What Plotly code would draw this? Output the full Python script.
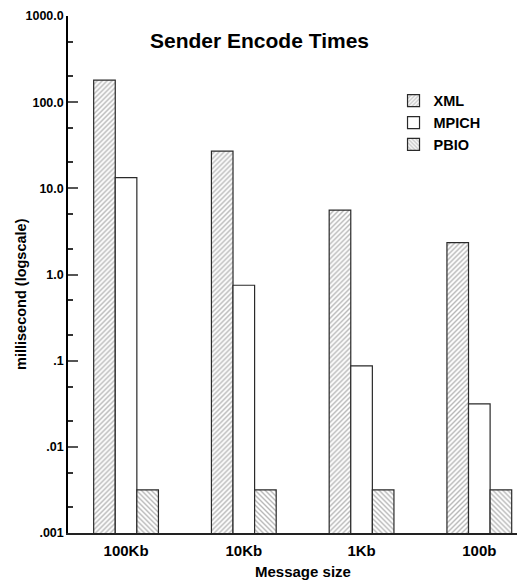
import plotly.graph_objects as go

categories = ["100Kb", "10Kb", "1Kb", "100b"]
xml_ms = [180, 27, 5.6, 2.35]
mpich_ms = [13.3, 0.75, 0.087, 0.0316]
pbio_ms = [0.00316, 0.00316, 0.00316, 0.00316]
ytick_vals = [0.001, 0.01, 0.1, 1, 10, 100, 1000]
ytick_text = [".001", ".01", ".1", "1.0", "10.0", "100.0", "1000.0"]

FONT = "Liberation Sans, Arial, sans-serif"
line = dict(color="#2a2a2a", width=1.2)

fig = go.Figure()
fig.add_trace(go.Bar(
    name="XML", x=categories, y=xml_ms,
    marker=dict(color="white", line=line,
                pattern=dict(shape="/", fgcolor="#6e6e6e", bgcolor="white", size=3.5, solidity=0.4)),
))
fig.add_trace(go.Bar(
    name="MPICH", x=categories, y=mpich_ms,
    marker=dict(color="white", line=line),
))
fig.add_trace(go.Bar(
    name="PBIO", x=categories, y=pbio_ms,
    marker=dict(color="white", line=line,
                pattern=dict(shape="\\", fgcolor="#6e6e6e", bgcolor="white", size=3.5, solidity=0.4)),
))

L, R, T, B = 68, 1, 16, 49
W, H = 518, 582
pw, ph = W - L - R, H - T - B


def px(x, y):
    return (x - L) / pw, 1 - (y - T) / ph


ann = []
for text, x, y, size, angle in [
    ("<b>Sender Encode Times</b>", 259, 41, 21, 0),
    ("<b>Message size</b>", 302.5, 571, 15, 0),
    ("<b>millisecond (logscale)</b>", 21, 294, 14.5, -90),
]:
    ax, ay = px(x, y)
    ann.append(dict(text=text, x=ax, y=ay, xref="paper", yref="paper",
                    xanchor="center", yanchor="middle", showarrow=False,
                    textangle=angle, font=dict(family=FONT, size=size, color="black")))

fig.update_layout(
    width=W, height=H,
    margin=dict(l=L, r=R, t=T, b=B),
    paper_bgcolor="white", plot_bgcolor="white",
    barmode="group", bargap=0.45, bargroupgap=0,
    font=dict(family=FONT, size=12, color="black"),
    showlegend=True,
    legend=dict(x=0.725, y=0.867, xanchor="left", yanchor="top",
                font=dict(family=FONT, size=14.5, color="black", weight="bold"),
                bgcolor="rgba(0,0,0,0)", tracegroupgap=2, itemwidth=30),
    annotations=ann,
)

fig.update_xaxes(
    range=[-0.493, 3.32], showgrid=False, zeroline=False,
    showline=True, linecolor="#222222", linewidth=1.5, ticks="",
    ticklabelstandoff=3,
    tickfont=dict(family=FONT, size=15, color="black", weight="bold"),
)
fig.update_yaxes(
    type="log", range=[-3, 3], showgrid=False, zeroline=False,
    showline=True, linecolor="black", linewidth=1.5,
    tickvals=ytick_vals, ticktext=ytick_text,
    ticks="inside", ticklen=10, tickcolor="#555555", tickwidth=1.5,
    minor=dict(ticks="inside", ticklen=5, tickcolor="#333333", showgrid=False),
    tickfont=dict(family=FONT, size=12.5, color="black", weight="bold"),
)

fig.write_html("out.html", config={"displayModeBar": False},
               post_script="document.body.style.margin='0';")
